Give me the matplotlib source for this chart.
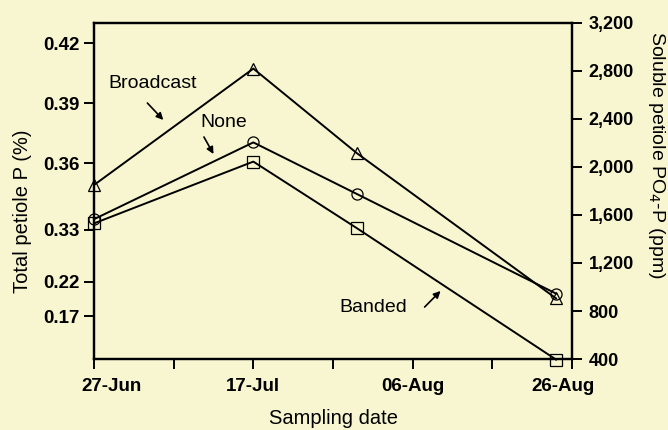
import numpy as np
import matplotlib
matplotlib.use('Agg')
import matplotlib.pyplot as plt
import matplotlib.transforms as mtransforms

# sampling dates as days after 27-Jun
days = [0, 20, 33, 58]
broadcast = [1850, 2820, 2115, 905]
none = [1565, 2205, 1775, 945]
banded = [1530, 2045, 1490, 395]

date_ticks = [0, 20, 40, 60]
date_labels = ['27-Jun', '17-Jul', '06-Aug', '26-Aug']
minor_ticks = [10, 30, 50]

ppm_ticks = [400, 800, 1200, 1600, 2000, 2400, 2800, 3200]
pct_ticks = [3033, 2533, 2033, 1475, 1042, 758]
pct_labels = ['0.42', '0.39', '0.36', '0.33', '0.22', '0.17']

bg = '#f8f6d0'
plt.rcParams['font.family'] = ['Liberation Sans', 'DejaVu Sans']

fig = plt.figure(figsize=(6.68, 4.30), dpi=100, facecolor=bg)
ax = fig.add_axes([94 / 668, 1 - 359 / 430, 478 / 668, 336 / 430])
ax.set_facecolor(bg)
ax2 = ax.twinx()

for vals, mk in [(broadcast, '^'), (none, 'o'), (banded, 's')]:
    ax2.plot(days, vals, color='black', lw=1.4, marker=mk, markersize=8,
             mfc='none', mec='black', mew=0.9, clip_on=False)

ax.set_xlim(0, 60)
ax.set_ylim(400, 3200)
ax2.set_ylim(400, 3200)

ax.set_xticks(date_ticks)
ax.set_xticklabels(date_labels, fontweight='bold', fontsize=13.5)
ax.set_xticks(minor_ticks, minor=True)
ax.tick_params(axis='x', which='both', direction='out', length=7, width=1.4, pad=7)

ax.set_yticks(pct_ticks)
ax.set_yticklabels(pct_labels, fontweight='bold', fontsize=13.5)
ax.tick_params(axis='y', direction='out', length=7, width=1.4, pad=3)

ax2.set_yticks(ppm_ticks)
ax2.set_yticklabels(['{:,}'.format(v) for v in ppm_ticks], fontweight='bold', fontsize=13)
ax2.tick_params(axis='y', direction='out', length=7, width=1.4, pad=5)

for a in (ax, ax2):
    for s in a.spines.values():
        s.set_linewidth(1.6)

# nudge the first and last date labels like the original
lbls = ax.get_xticklabels()
lbls[0].set_transform(lbls[0].get_transform() + mtransforms.ScaledTranslation(17 / 100, 0, fig.dpi_scale_trans))
lbls[-1].set_transform(lbls[-1].get_transform() + mtransforms.ScaledTranslation(-9 / 100, 0, fig.dpi_scale_trans))

ax.set_xlabel('Sampling date', fontsize=14.5, va='center')
ax.xaxis.set_label_coords(0.502, -0.176)
ax.set_ylabel('Total petiole P (%)', fontsize=14.5, va='center')
ax.yaxis.set_label_coords(-0.149, 0.44)
ax2.set_ylabel('Soluble petiole PO$_4$-P (ppm)', fontsize=14, rotation=270, va='center')
ax2.yaxis.set_label_coords(1.176, 0.607)

arrow = dict(arrowstyle='-|>', lw=1.2, color='black', mutation_scale=10, shrinkA=0, shrinkB=0)
ax2.text(7.3, 2700, 'Broadcast', fontsize=14, ha='center', va='center')
ax2.annotate('', xy=(8.7, 2392), xytext=(6.7, 2533), arrowprops=arrow)
ax2.text(16.3, 2367, 'None', fontsize=14, ha='center', va='center')
ax2.annotate('', xy=(15.0, 2108), xytext=(13.8, 2250), arrowprops=arrow)
ax2.text(35.0, 833, 'Banded', fontsize=14, ha='center', va='center')
ax2.annotate('', xy=(43.5, 967), xytext=(41.5, 833), arrowprops=arrow)

fig.savefig('out.png', dpi=100, facecolor=bg)
